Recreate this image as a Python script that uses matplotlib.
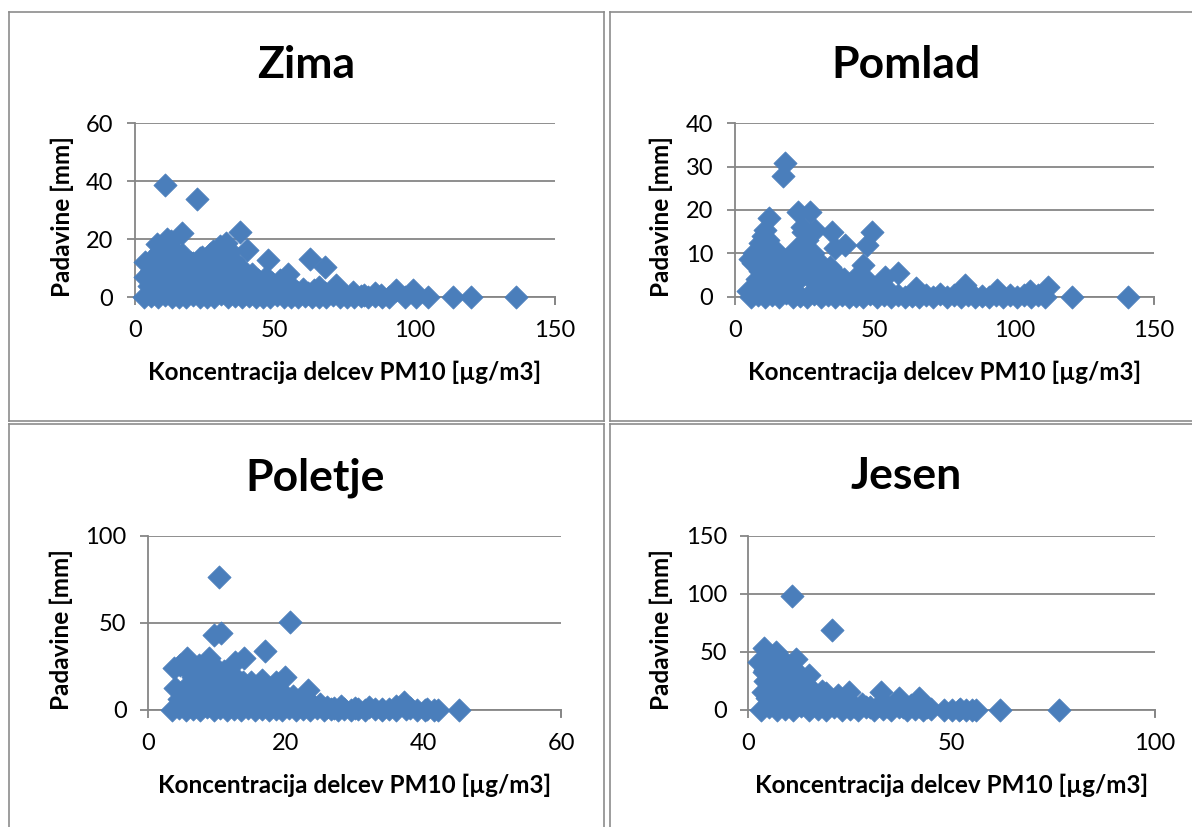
import matplotlib
matplotlib.use("Agg")
import matplotlib.pyplot as plt
from matplotlib.lines import Line2D

# ---------------- data ----------------
titles = ["Zima", "Pomlad", "Poletje", "Jesen"]
x_label = "Koncentracija delcev PM10 [µg/m3]"
y_label = "Padavine [mm]"

zima_x = [10.7, 22.1, 16.8, 37.6, 32.8, 11.4, 7.9, 13.0, 40.0, 3.7, 3.7, 47.7, 62.6, 67.9, 54.8,
          35.2, 15.6, 23.3, 28.0, 30.5, 72.0, 93.5, 99.5, 104.8, 113.7, 120.3, 136.3,
          3.5, 6.0, 8.5, 11.0, 13.5, 16.0, 18.5, 21.0, 23.5, 26.0, 28.5, 31.0, 33.5, 36.0, 38.5,
          41.0, 43.5, 46.0, 48.5, 51.0, 53.5, 56.0, 58.5, 61.0, 63.5, 66.0, 68.5, 71.0, 73.5, 76.0,
          78.5, 81.0, 83.5, 86.0, 88.5, 91.0, 96.5, 100.5,
          5, 6, 7, 8, 9, 10, 11, 12, 13, 14, 15, 16, 17, 18, 19, 20, 21, 22, 23, 24, 25, 26, 27,
          28, 29, 30, 31, 32, 33, 34, 35, 36, 37, 38, 39, 40, 41, 42, 43, 44, 45, 46, 47, 48, 49,
          50, 51, 52, 53, 54, 56, 58, 60, 62, 64, 66, 68, 70, 74, 78, 82, 86, 88,
          8, 12, 14, 17, 20, 24, 27, 33, 36, 34, 10, 6, 9,
          7, 11, 15, 19, 23, 27, 31, 35, 39, 43, 47, 18, 22, 26, 30]
zima_y = [38.9, 34.0, 22.3, 22.6, 18.8, 20.0, 18.3, 19.5, 16.5, 12.4, 7.2, 13.0, 13.3, 10.5, 8.0,
          13.0, 14.8, 13.6, 16.0, 17.7, 4.3, 2.6, 2.6, 0.2, 0.0, 0.0, 0.0,
          0.0, 0.5, 0.0, 1.0, 0.0, 0.3, 0.0, 0.8, 0.0, 0.2, 0.0, 1.2, 0.0, 0.4, 0.0,
          0.6, 0.0, 0.2, 0.0, 0.9, 0.0, 0.3, 0.0, 0.5, 0.0, 0.2, 0.0, 0.7, 0.0, 0.3,
          0.0, 0.6, 0.0, 0.4, 0.0, 0.2, 0.0, 0.3,
          4, 9, 2, 6, 11, 4, 8, 13, 5, 9, 2, 11, 6, 13, 3, 9, 12, 5, 10, 2, 8, 13, 4,
          10, 6, 14, 3, 9, 6, 11, 3, 8, 5, 10, 2, 7, 4, 8, 3, 6, 2, 5, 7, 3, 5,
          2, 4, 6, 1.5, 3, 4, 2, 3, 1.5, 2.5, 3.5, 1.5, 2, 1.5, 2, 1, 1.5, 1,
          15, 17.5, 16, 15, 12, 14, 15, 15, 11.5, 16, 7, 12, 16,
          5.5, 3, 6, 7.5, 6, 8, 7, 5.5, 5, 4.5, 3.5, 9.5, 8.5, 11, 10]

pomlad_x = [18.0, 17.2, 22.8, 27.0, 12.4, 10.9, 28.7, 24.6, 34.7, 49.0, 47.2, 39.5, 35.9, 9.0,
            6.7, 5.5, 46.0, 34.1, 36.5, 53.8, 58.5, 4.9, 82.4, 93.7, 112.0, 120.5, 140.8, 65.0,
            105.6,
            6.0, 8.5, 11.0, 13.5, 16.0, 18.5, 21.0, 23.5, 26.0, 28.5, 31.0, 33.5, 36.0, 38.5,
            41.0, 43.5, 46.0, 48.5, 51.0, 53.5, 56.0, 58.5, 61.0, 63.5, 66.0, 68.5, 71.0, 73.5,
            76.0, 78.5, 81.0, 83.5, 86.0, 88.5, 91.0, 93.5, 96.0, 98.5, 101.0, 103.5, 106.0,
            108.5, 111.0,
            7, 8, 9, 10, 11, 12, 13, 14, 15, 16, 17, 18, 19, 20, 21, 22, 23, 24, 25, 26, 27,
            28, 29, 30, 31, 32, 33, 35, 37, 39, 41, 43, 44, 45, 47, 48, 50, 52, 55,
            12, 14, 20, 24, 10, 26,
            9, 13, 17, 21, 25, 29, 33, 38, 42]
pomlad_y = [30.8, 27.8, 19.6, 19.6, 18.1, 15.4, 15.4, 15.0, 15.0, 15.0, 11.9, 11.9, 11.2, 12.3,
            7.7, 8.8, 7.3, 6.9, 5.0, 4.6, 5.4, 1.2, 2.7, 1.5, 2.3, 0.0, 0.0, 1.9,
            1.2,
            0.0, 0.5, 0.0, 0.3, 0.0, 0.8, 0.0, 0.2, 0.0, 0.6, 0.0, 0.3, 0.0, 0.5,
            0.0, 0.2, 0.0, 0.7, 0.0, 0.3, 0.0, 0.5, 0.0, 0.2, 0.0, 0.4, 0.0, 0.6,
            0.0, 0.3, 0.0, 0.5, 0.0, 0.2, 0.0, 0.4, 0.0, 0.3, 0.0, 0.5, 0.0,
            0.3, 0.0,
            10, 4, 9, 2, 11, 6, 10, 3, 8, 1, 9, 5, 7, 2, 8, 11, 4, 12, 9, 13, 6,
            10, 3, 8, 4, 6, 2, 3, 1.5, 4, 2, 3, 5, 2, 4, 1, 2, 1, 1.5,
            13, 11, 9, 16, 14, 10,
            6, 5, 3.5, 5, 6.5, 5.5, 4, 2.5, 1.5]

poletje_x = [10.3, 20.6, 9.5, 10.6, 17.0, 13.9, 12.6, 5.7, 3.8, 4.6, 8.8, 9.9, 7.4, 3.9, 19.9,
             18.5, 23.2, 13.8, 37.1, 45.2, 42.1, 40.2,
             3.5, 4.5, 5.5, 6.5, 7.5, 8.5, 9.5, 10.5, 11.5, 12.5, 13.5, 14.5, 15.5, 16.5, 17.5,
             18.5, 19.5, 20.5, 21.5, 22.5, 23.5, 24.5, 25.5, 26.5, 27.5, 28.5, 29.5, 30.5, 31.5,
             33.0, 34.0, 35.0, 36.0, 37.5, 39.0, 40.5, 41.5,
             5, 6, 7, 8, 9, 10, 11, 12, 13, 14, 15, 16, 17, 18, 19, 20, 21, 22, 23, 24, 25, 26,
             27, 28, 30, 32, 34, 36, 38,
             6, 7, 8, 9, 10, 12, 14, 16, 11, 13, 15,
             5.5, 7.5, 9.5, 11.5, 13.5, 15.5, 17.5, 19.5,
             6.5, 8.0, 10.0, 12.0, 14.5, 16.5, 4.5, 8.5]
poletje_y = [76.6, 50.7, 43.0, 44.0, 33.8, 30.0, 27.6, 29.6, 23.8, 25.7, 29.6, 23.8, 25.7, 12.3,
             19.0, 16.0, 11.3, 16.0, 4.6, 0.0, 0.0, 0.0,
             0.0, 1.0, 0.0, 0.5, 0.0, 1.5, 0.0, 0.8, 0.0, 0.4, 0.0, 1.2, 0.0, 0.6, 0.0,
             0.3, 0.0, 0.9, 0.0, 0.5, 0.0, 0.7, 0.0, 0.4, 0.0, 0.6, 0.0, 0.3, 0.0,
             0.5, 0.0, 0.4, 0.0, 0.6, 0.0, 0.3, 0.0,
             5, 15, 8, 20, 3, 14, 22, 7, 12, 4, 10, 6, 13, 3, 9, 5, 8, 3, 6, 2, 3, 1.5,
             1, 2, 1, 1.5, 0.5, 2, 1,
             22, 18, 12, 17, 8, 18, 13, 11, 15, 5, 16,
             9, 11, 6, 9, 7, 4, 8, 10,
             19, 14, 19, 21, 9, 17, 6, 25]

jesen_x = [10.7, 20.6, 3.9, 6.7, 11.8, 2.5, 9.0, 15.0, 3.9, 24.8, 32.7, 37.1, 42.0, 19.2, 22.0,
           61.9, 76.3, 55.0, 51.7, 48.0,
           3, 5, 7, 9, 11, 13, 15, 17, 19, 21, 23, 25, 27, 29, 31, 33, 35, 37, 39, 41, 43, 45,
           50, 52, 53.5, 56,
           4, 5, 6, 7, 8, 9, 10, 11, 12, 13, 14, 15, 16, 17, 18, 3.5, 5, 6, 7, 8, 9, 10, 11,
           12, 13, 14, 16, 20, 22, 24, 26, 28, 30, 32, 34, 36, 38, 40, 42, 44, 18,
           4.5, 6.5, 8.5, 10.5, 12.5, 14.5,
           5.5, 7.5, 9.5, 4.0, 6.0, 8.0, 11.5, 13.5]
jesen_y = [98.2, 68.8, 53.0, 50.0, 43.5, 41.5, 41.5, 30.0, 32.8, 15.5, 15.5, 9.8, 9.8, 14.0, 12.7,
           0.0, 0.0, 0.0, 0.0, 0.0,
           0, 2, 0, 1, 0, 3, 0, 1, 0, 2, 0, 1, 0, 2, 0, 1, 0, 2, 0, 1, 0, 1,
           0, 1, 0, 0,
           25, 40, 12, 30, 20, 35, 8, 25, 18, 28, 10, 20, 6, 12, 4, 15, 5, 33, 45, 38, 15, 30, 36,
           5, 15, 22, 14, 8, 5, 6, 3, 5, 2, 4, 3, 5, 2, 4, 3, 2, 16,
           10, 22, 28, 18, 10, 8,
           26, 17, 24, 34, 41, 11, 31, 21]

panels = [
    dict(title=titles[0], x=zima_x, y=zima_y, xlim=(0, 150), xticks=[0, 50, 100, 150],
         ylim=(0, 60), yticks=[0, 20, 40, 60]),
    dict(title=titles[1], x=pomlad_x, y=pomlad_y, xlim=(0, 150), xticks=[0, 50, 100, 150],
         ylim=(0, 40), yticks=[0, 10, 20, 30, 40]),
    dict(title=titles[2], x=poletje_x, y=poletje_y, xlim=(0, 60), xticks=[0, 20, 40, 60],
         ylim=(0, 100), yticks=[0, 50, 100]),
    dict(title=titles[3], x=jesen_x, y=jesen_y, xlim=(0, 100), xticks=[0, 50, 100],
         ylim=(0, 150), yticks=[0, 50, 100, 150]),
]

# ---------------- layout (pixels) ----------------
W, H = 1192, 827
plt.rcParams['font.family'] = ['Lato', 'DejaVu Sans']

fig = plt.figure(figsize=(W / 100, H / 100), dpi=100)

# axes boxes: left, right, top, bottom (px)
boxes = [(134.7, 554.5, 123.5, 297.5),
         (734.7, 1154.0, 123.3, 296.7),
         (148.1, 561.4, 536.0, 709.7),
         (748.4, 1155.0, 536.0, 709.7)]
title_pos = [(306, 78), (906, 78), (315, 490), (906, 489)]
ylab_pos = [(62, 216.5), (661, 216.5), (61, 629.5), (661, 629.5)]
xlab_base = [380, 380, 793, 793]

grid_col = '#868686'
mark_col = '#4A7EBB'


def fx(px):
    return px / W


def fy(py):
    return 1 - py / H


for p, (l, r, t, b), tp, yp, xb in zip(panels, boxes, title_pos, ylab_pos, xlab_base):
    ax = fig.add_axes([fx(l), fy(b), (r - l) / W, (b - t) / H])
    ax.scatter(p['x'], p['y'], marker='D', s=140, color=mark_col, edgecolors=mark_col,
               linewidths=0.5, clip_on=False, zorder=3)
    ax.set_xlim(*p['xlim'])
    ax.set_ylim(*p['ylim'])
    ax.set_xticks(p['xticks'])
    ax.set_yticks(p['yticks'])
    for s in ['top', 'right']:
        ax.spines[s].set_visible(False)
    for s in ['left', 'bottom']:
        ax.spines[s].set_color(grid_col)
        ax.spines[s].set_linewidth(1.3)
    ax.grid(axis='y', color=grid_col, linewidth=1.3, zorder=1)
    ax.set_axisbelow(True)
    ax.tick_params(axis='both', direction='out', color=grid_col, width=1.3, length=5.5,
                   labelsize=17, labelcolor='black')
    ax.tick_params(axis='y', pad=10)
    ax.tick_params(axis='x', pad=11)
    # right-end tick mark of x axis (Excel style)
    ax.plot([1, 1], [0, -0.035], transform=ax.transAxes, color=grid_col, lw=1.3,
            clip_on=False, zorder=2)

    fig.text(fx(tp[0]), fy(tp[1]), p['title'], ha='center', va='baseline',
             fontsize=32, fontweight='bold')
    fig.text(fx(yp[0]), fy(yp[1]), y_label, ha='center', va='center', rotation=90,
             fontsize=17.5, fontweight='bold')
    fig.text(fx((l + r) / 2), fy(xb), x_label, ha='center', va='baseline',
             fontsize=17.5, fontweight='bold')

# ---------------- panel borders ----------------
border_col = '#8c8c8c'
lw = 1.2
segs = [
    # top-left panel
    ((8.5, 12), (604, 12)), ((8.5, 12), (8.5, 420.5)), ((604, 12), (604, 420.5)),
    ((8.5, 420.5), (604, 420.5)),
    # top-right panel
    ((609.5, 12), (1195, 12)), ((609.5, 12), (609.5, 420.5)), ((609.5, 420.5), (1195, 420.5)),
    # bottom-left panel
    ((8.5, 424), (604, 424)), ((8.5, 424), (8.5, 830)), ((604, 424), (604, 830)),
    # bottom-right panel
    ((609.5, 424), (1195, 424)), ((609.5, 424), (609.5, 830)),
]
for (x0, y0), (x1, y1) in segs:
    fig.add_artist(Line2D([fx(x0), fx(x1)], [fy(y0), fy(y1)], color=border_col, lw=lw,
                          transform=fig.transFigure))

fig.savefig("out.png", dpi=100)
